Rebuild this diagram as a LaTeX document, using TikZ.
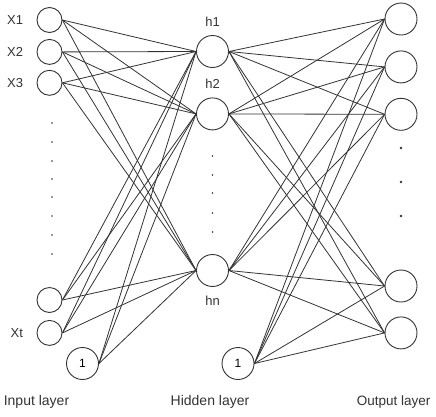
\documentclass[tikz,border=0pt]{standalone}
\usepackage{fontspec}
\setmainfont{Liberation Sans}
\usetikzlibrary{positioning}
\definecolor{ink}{HTML}{333333}
\tikzset{
  inp/.style={circle,draw=ink,line width=0.9pt,minimum size=25pt,inner sep=0pt},
  hid/.style={circle,draw=ink,line width=0.9pt,minimum size=32pt,inner sep=0pt,font=\fontsize{12}{14}\selectfont},
  conn/.style={draw=ink,line width=0.8pt},
  tag/.style={font=\fontsize{13}{15}\selectfont,text=ink},
  lay/.style={font=\fontsize{14}{16}\selectfont,text=ink}
}
\begin{document}
\begin{tikzpicture}[x=1pt,y=-1pt]
\useasboundingbox (0,0) rectangle (436,416);
% input layer
\node[inp,label={[tag,label distance=10pt]left:X1}] (x1) at (49.5,20) {};
\node[inp,below=6pt of x1,label={[tag,label distance=10pt]left:X2}] (x2) {};
\node[inp,below=5pt of x2,label={[tag,label distance=10pt]left:X3}] (x3) {};
\node[inp] (x4) at (49.5,300) {};
\node[inp,below=7pt of x4,label={[tag,label distance=10pt]left:Xt}] (xt) {};
\node[hid] (b1) at (82.5,363.5) {1};
\foreach \y in {123,142,161,179,197,216,235,254} \fill[ink] (52,\y) circle (0.8pt);
% hidden layer
\node[hid,label={[tag,label distance=5pt]above:h1}] (h1) at (212.5,51.5) {};
\node[hid,below=29.5pt of h1,label={[tag,label distance=5pt]above:h2}] (h2) {};
\node[hid,label={[tag,label distance=6pt]below:hn}] (hn) at (212.5,270.5) {};
\node[hid] (hb) at (238,363.5) {1};
\foreach \y in {156,175,193,213,232} \fill[ink] (212.5,\y) circle (0.8pt);
% output layer
\node[hid] (o1) at (401,19) {};
\node[hid,below=15pt of o1] (o2) {};
\node[hid,below=14.5pt of o2] (o3) {};
\node[hid] (o4) at (401,286) {};
\node[hid,below=14pt of o4] (o5) {};
\foreach \y in {148,182,216} \fill[ink] (401,\y) circle (1.3pt);
% connections
\foreach \a in {x1,x2,x3,x4,xt,b1} \foreach \b in {h1,h2,hn} \draw[conn] (\a.east) -- (\b.west);
\foreach \a in {h1,h2,hn,hb} \foreach \b in {o1,o2,o3,o4,o5} \draw[conn] (\a.east) -- (\b.west);
% layer names
\node[lay] (li) at (36.5,402) {Input layer};
\node[lay] (lh) at (210,402) {Hidden layer};
\node[lay,anchor=east,font=\fontsize{13.5}{16}\selectfont] (lo) at (434,402) {Output layer};
\end{tikzpicture}
\end{document}
